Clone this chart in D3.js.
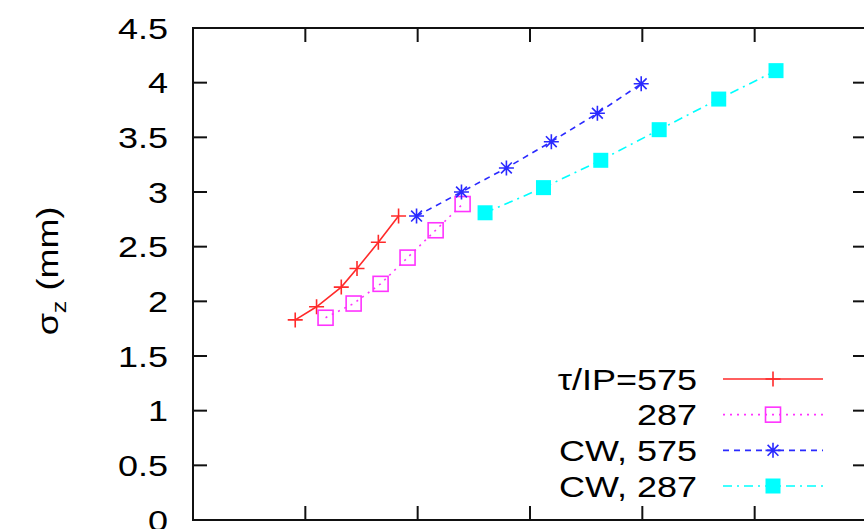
<!DOCTYPE html>
<html>
<head>
<meta charset="utf-8">
<script src="https://cdn.jsdelivr.net/npm/d3@7"></script>
<style>
  body { margin: 0; background: #fff; }
  text { font-family: "Liberation Sans", Arial, sans-serif; fill: #000; }
</style>
</head>
<body>
<div id="chart"></div>
<script>
// series data (x in axis tick units, y = sigma_z in mm)
var redX = [0.91, 1.10, 1.32, 1.46, 1.65, 1.83];
var redY = [1.83, 1.95, 2.13, 2.30, 2.54, 2.78];

var magX = [1.18, 1.43, 1.67, 1.91, 2.16, 2.40];
var magY = [1.85, 1.98, 2.16, 2.40, 2.65, 2.89];

var blueX = [1.99, 2.39, 2.79, 3.19, 3.60, 3.99];
var blueY = [2.78, 3.00, 3.22, 3.46, 3.72, 3.99];

var cyanX = [2.60, 3.12, 3.63, 4.15, 4.68, 5.19];
var cyanY = [2.81, 3.04, 3.29, 3.57, 3.85, 4.11];

var legendLabels = ["\u03c4/IP=575", "287", "CW, 575", "CW, 287"];
var yTicks = [0, 0.5, 1, 1.5, 2, 2.5, 3, 3.5, 4, 4.5];
var xTicks = [0, 1, 2, 3, 4, 5, 6];

var width = 864, height = 529;
var stretch = 1.2; // the original font runs wide

var x = d3.scaleLinear().domain([0, 6]).range([193, 867]);
var y = d3.scaleLinear().domain([0, 4.5]).range([520, 28]);

var svg = d3.select("#chart")
  .append("svg")
  .attr("width", width)
  .attr("height", height);

var series = [
  { name: legendLabels[0], xs: redX, ys: redY, color: "#ff2a2a", dash: null, marker: "plus" },
  { name: legendLabels[1], xs: magX, ys: magY, color: "#ff33ff", dash: "2,5", marker: "box" },
  { name: legendLabels[2], xs: blueX, ys: blueY, color: "#2a2aff", dash: "6,5", marker: "star" },
  { name: legendLabels[3], xs: cyanX, ys: cyanY, color: "#00ffff", dash: "9,5,2,5", marker: "fbox" }
];

// frame with inward ticks
var tickLen = 14;
svg.append("rect")
  .attr("x", x(0)).attr("y", y(4.5))
  .attr("width", x(6) - x(0)).attr("height", y(0) - y(4.5))
  .attr("fill", "none").attr("stroke", "#111").attr("stroke-width", 2);

yTicks.forEach(function(t) {
  svg.append("line")
    .attr("x1", x(0)).attr("x2", x(0) + tickLen)
    .attr("y1", y(t)).attr("y2", y(t))
    .attr("stroke", "#111").attr("stroke-width", 2);
  svg.append("line")
    .attr("x1", x(6) - tickLen).attr("x2", x(6))
    .attr("y1", y(t)).attr("y2", y(t))
    .attr("stroke", "#111").attr("stroke-width", 2);
  svg.append("text")
    .attr("transform", "translate(168," + y(t) + ") scale(" + stretch + ",1)")
    .attr("dy", "0.36em")
    .attr("text-anchor", "end")
    .style("font-size", "30px")
    .text(t);
});

xTicks.forEach(function(t) {
  svg.append("line")
    .attr("x1", x(t)).attr("x2", x(t))
    .attr("y1", y(0)).attr("y2", y(0) - tickLen)
    .attr("stroke", "#111").attr("stroke-width", 2);
  svg.append("line")
    .attr("x1", x(t)).attr("x2", x(t))
    .attr("y1", y(4.5)).attr("y2", y(4.5) + tickLen)
    .attr("stroke", "#111").attr("stroke-width", 2);
});

// y label
var ylab = svg.append("text")
  .attr("transform", "translate(58,271) rotate(-90) scale(" + stretch + ",1)")
  .attr("text-anchor", "middle")
  .style("font-size", "30px");
ylab.append("tspan").text("\u03c3");
ylab.append("tspan").attr("dy", 8).style("font-size", "21px").text("z");
ylab.append("tspan").attr("dy", -8).text(" (mm)");

function drawMarker(g, type, cx, cy, color) {
  var s = 7.5;
  if (type == "plus") {
    g.append("path")
      .attr("d", "M" + (cx - s) + "," + cy + "H" + (cx + s) + "M" + cx + "," + (cy - s) + "V" + (cy + s))
      .attr("stroke", color).attr("stroke-width", 1.6).attr("fill", "none");
  } else if (type == "box") {
    g.append("rect")
      .attr("x", cx - s).attr("y", cy - s).attr("width", 2 * s).attr("height", 2 * s)
      .attr("stroke", color).attr("stroke-width", 1.6).attr("fill", "none");
  } else if (type == "star") {
    var d = s * 0.72;
    g.append("path")
      .attr("d", "M" + (cx - s) + "," + cy + "H" + (cx + s) + "M" + cx + "," + (cy - s) + "V" + (cy + s) +
        "M" + (cx - d) + "," + (cy - d) + "L" + (cx + d) + "," + (cy + d) +
        "M" + (cx - d) + "," + (cy + d) + "L" + (cx + d) + "," + (cy - d))
      .attr("stroke", color).attr("stroke-width", 1.6).attr("fill", "none");
  } else {
    g.append("rect")
      .attr("x", cx - s).attr("y", cy - s).attr("width", 2 * s).attr("height", 2 * s)
      .attr("fill", color);
  }
}

var line = d3.line()
  .x(function(d) { return x(d[0]); })
  .y(function(d) { return y(d[1]); });

series.forEach(function(s) {
  var pts = s.xs.map(function(v, i) { return [v, s.ys[i]]; });
  var g = svg.append("g");
  g.append("path")
    .datum(pts)
    .attr("d", line)
    .attr("fill", "none")
    .attr("stroke", s.color)
    .attr("stroke-width", 1.6)
    .attr("stroke-dasharray", s.dash);
  pts.forEach(function(p) {
    drawMarker(g, s.marker, x(p[0]), y(p[1]), s.color);
  });
});

// legend
var legY = d3.scaleLinear().domain([0, 3]).range([379, 486]);
series.forEach(function(s, i) {
  var ly = legY(i);
  svg.append("text")
    .attr("transform", "translate(697," + ly + ") scale(" + stretch + ",1)")
    .attr("dy", "0.36em")
    .attr("text-anchor", "end")
    .style("font-size", "30px")
    .text(s.name);
  svg.append("line")
    .attr("x1", 723).attr("x2", 823)
    .attr("y1", ly).attr("y2", ly)
    .attr("stroke", s.color).attr("stroke-width", 1.6)
    .attr("stroke-dasharray", s.dash);
  drawMarker(svg, s.marker, 773, ly, s.color);
});
</script>
</body>
</html>
